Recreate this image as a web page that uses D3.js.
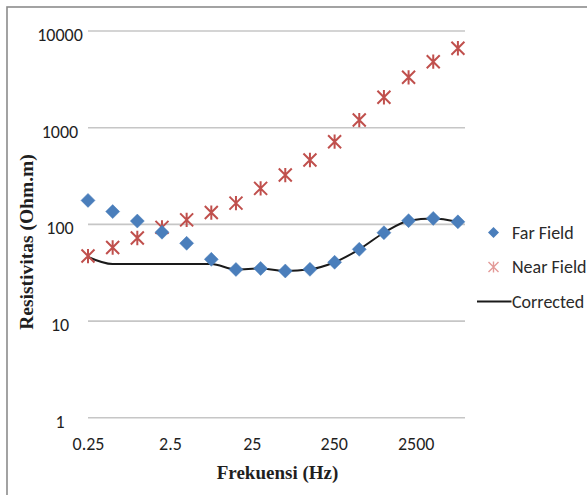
<!DOCTYPE html>
<html>
<head>
<meta charset="utf-8">
<script src="https://cdn.jsdelivr.net/npm/d3@7"></script>
<style>
  html, body { margin: 0; padding: 0; background: #fff; }
  svg { display: block; }
</style>
</head>
<body>
<svg id="chart" width="587" height="495"></svg>
<script>
// ---- data ----
const frequencies = [0.25, 0.5, 1, 2, 4, 8, 16, 32, 64, 128, 256, 512, 1024, 2048, 4096, 8192];
const farField    = [175, 134, 107, 82, 63, 43, 33.8, 34.6, 32.6, 33.9, 40.1, 54.6, 81, 108, 114, 105];
const nearField   = [46.5, 57, 71.5, 92, 110, 131, 164, 233, 320, 458, 708, 1186, 2040, 3280, 4760, 6550];
const corrected   = [45.5, 38.5, 38.5, 38.5, 38.5, 38.5, 33.8, 34.6, 32.6, 33.9, 40.1, 54.6, 81, 108, 114, 105];
const xTickValues = [0.25, 2.5, 25, 250, 2500];
const xTickLabels = ["0.25", "2.5", "25", "250", "2500"];
const yTickValues = [1, 10, 100, 1000, 10000];
const yTickLabels = ["1", "10", "100", "1000", "10000"];
const seriesNames = ["Far Field", "Near Field", "Corrected"];

// ---- layout ----
const svg = d3.select("#chart");
const plot = { left: 88, right: 465, top: 30.5, bottom: 417.3 };
const x = d3.scaleLog().domain([0.25, 10000]).range([plot.left, plot.right]);
const y = d3.scaleLog().domain([1, 10000]).range([plot.bottom, plot.top]);

const blue = "#4A7EBB";
const red = "#C0504D";
const tickFont = "Carlito, Lato, 'Open Sans', sans-serif";
const serif = "'Liberation Serif', 'Times New Roman', serif";

// outer border
svg.append("rect")
  .attr("x", 7).attr("y", 7).attr("width", 620).attr("height", 520)
  .attr("fill", "none").attr("stroke", "#8c8c8c").attr("stroke-width", 1.6);

// y axis (gridlines + labels)
const yAxis = d3.axisLeft(y)
  .tickValues(yTickValues)
  .tickFormat((d, i) => yTickLabels[i])
  .tickSize(-(plot.right - plot.left))
  .tickPadding(0);
const gy = svg.append("g").attr("transform", `translate(${plot.left},0)`).call(yAxis);
gy.select(".domain").remove();
gy.selectAll(".tick line").attr("stroke", "#c6c6c6").attr("stroke-width", 1.6);
gy.selectAll(".tick text")
  .attr("x", 60 - plot.left)
  .attr("dy", "0.55em")
  .attr("text-anchor", "middle")
  .attr("fill", "#1f1f1f")
  .style("font-family", tickFont)
  .style("font-size", "18px");

// x axis labels
const xAxis = d3.axisBottom(x)
  .tickValues(xTickValues)
  .tickFormat((d, i) => xTickLabels[i])
  .tickSize(0)
  .tickPadding(0);
const gx = svg.append("g").attr("transform", `translate(0,${plot.bottom})`).call(xAxis);
gx.select(".domain").remove();
gx.selectAll(".tick text")
  .attr("y", 0)
  .attr("dy", 33)
  .attr("fill", "#1f1f1f")
  .style("font-family", tickFont)
  .style("font-size", "18px");

// axis titles
svg.append("text")
  .attr("transform", "translate(33,242) rotate(-90)")
  .attr("text-anchor", "middle")
  .style("font-family", serif)
  .style("font-weight", "bold")
  .style("font-size", "19.5px")
  .attr("fill", "#1f1f1f")
  .text("Resistivitas (Ohm.m)");

svg.append("text")
  .attr("x", 277.5).attr("y", 479)
  .attr("text-anchor", "middle")
  .style("font-family", serif)
  .style("font-weight", "bold")
  .style("font-size", "19px")
  .attr("fill", "#1f1f1f")
  .text("Frekuensi (Hz)");

// corrected line
const line = d3.line()
  .x((d, i) => x(frequencies[i]))
  .y(d => y(d))
  .curve(d3.curveMonotoneX);
svg.append("path")
  .datum(corrected)
  .attr("d", line)
  .attr("fill", "none")
  .attr("stroke", "#1a1a1a")
  .attr("stroke-width", 2);

// markers
const diamond = s => `M0,${-s}L${s},0L0,${s}L${-s},0Z`;
const star = s => `M${-s},${-s}L${s},${s}M${-s},${s}L${s},${-s}M0,${-s * 1.1}L0,${s * 1.1}`;

svg.append("g").selectAll("path")
  .data(nearField)
  .join("path")
  .attr("transform", (d, i) => `translate(${x(frequencies[i])},${y(d)})`)
  .attr("d", star(6.5))
  .attr("fill", "none")
  .attr("stroke", red)
  .attr("stroke-width", 2);

svg.append("g").selectAll("path")
  .data(farField)
  .join("path")
  .attr("transform", (d, i) => `translate(${x(frequencies[i])},${y(d)})`)
  .attr("d", diamond(7))
  .attr("fill", blue)
  .attr("stroke", blue)
  .attr("stroke-width", 0.5);

// legend
const legendY = [232.5, 267, 301.5];
const lg = svg.append("g");
lg.append("path")
  .attr("transform", `translate(493.5,${legendY[0]})`)
  .attr("d", diamond(5.5))
  .attr("fill", blue);
lg.append("path")
  .attr("transform", `translate(493.5,${legendY[1]})`)
  .attr("d", star(5))
  .attr("fill", "none")
  .attr("stroke", "#e39a98")
  .attr("stroke-width", 1.4);
lg.append("line")
  .attr("x1", 477).attr("x2", 511.5)
  .attr("y1", legendY[2]).attr("y2", legendY[2])
  .attr("stroke", "#1a1a1a").attr("stroke-width", 2);
lg.selectAll("text")
  .data(seriesNames)
  .join("text")
  .attr("x", 512)
  .attr("y", (d, i) => legendY[i])
  .attr("dy", "0.36em")
  .attr("fill", "#2a2a2a")
  .style("font-family", tickFont)
  .style("font-size", "18px")
  .text(d => d);
</script>
</body>
</html>
